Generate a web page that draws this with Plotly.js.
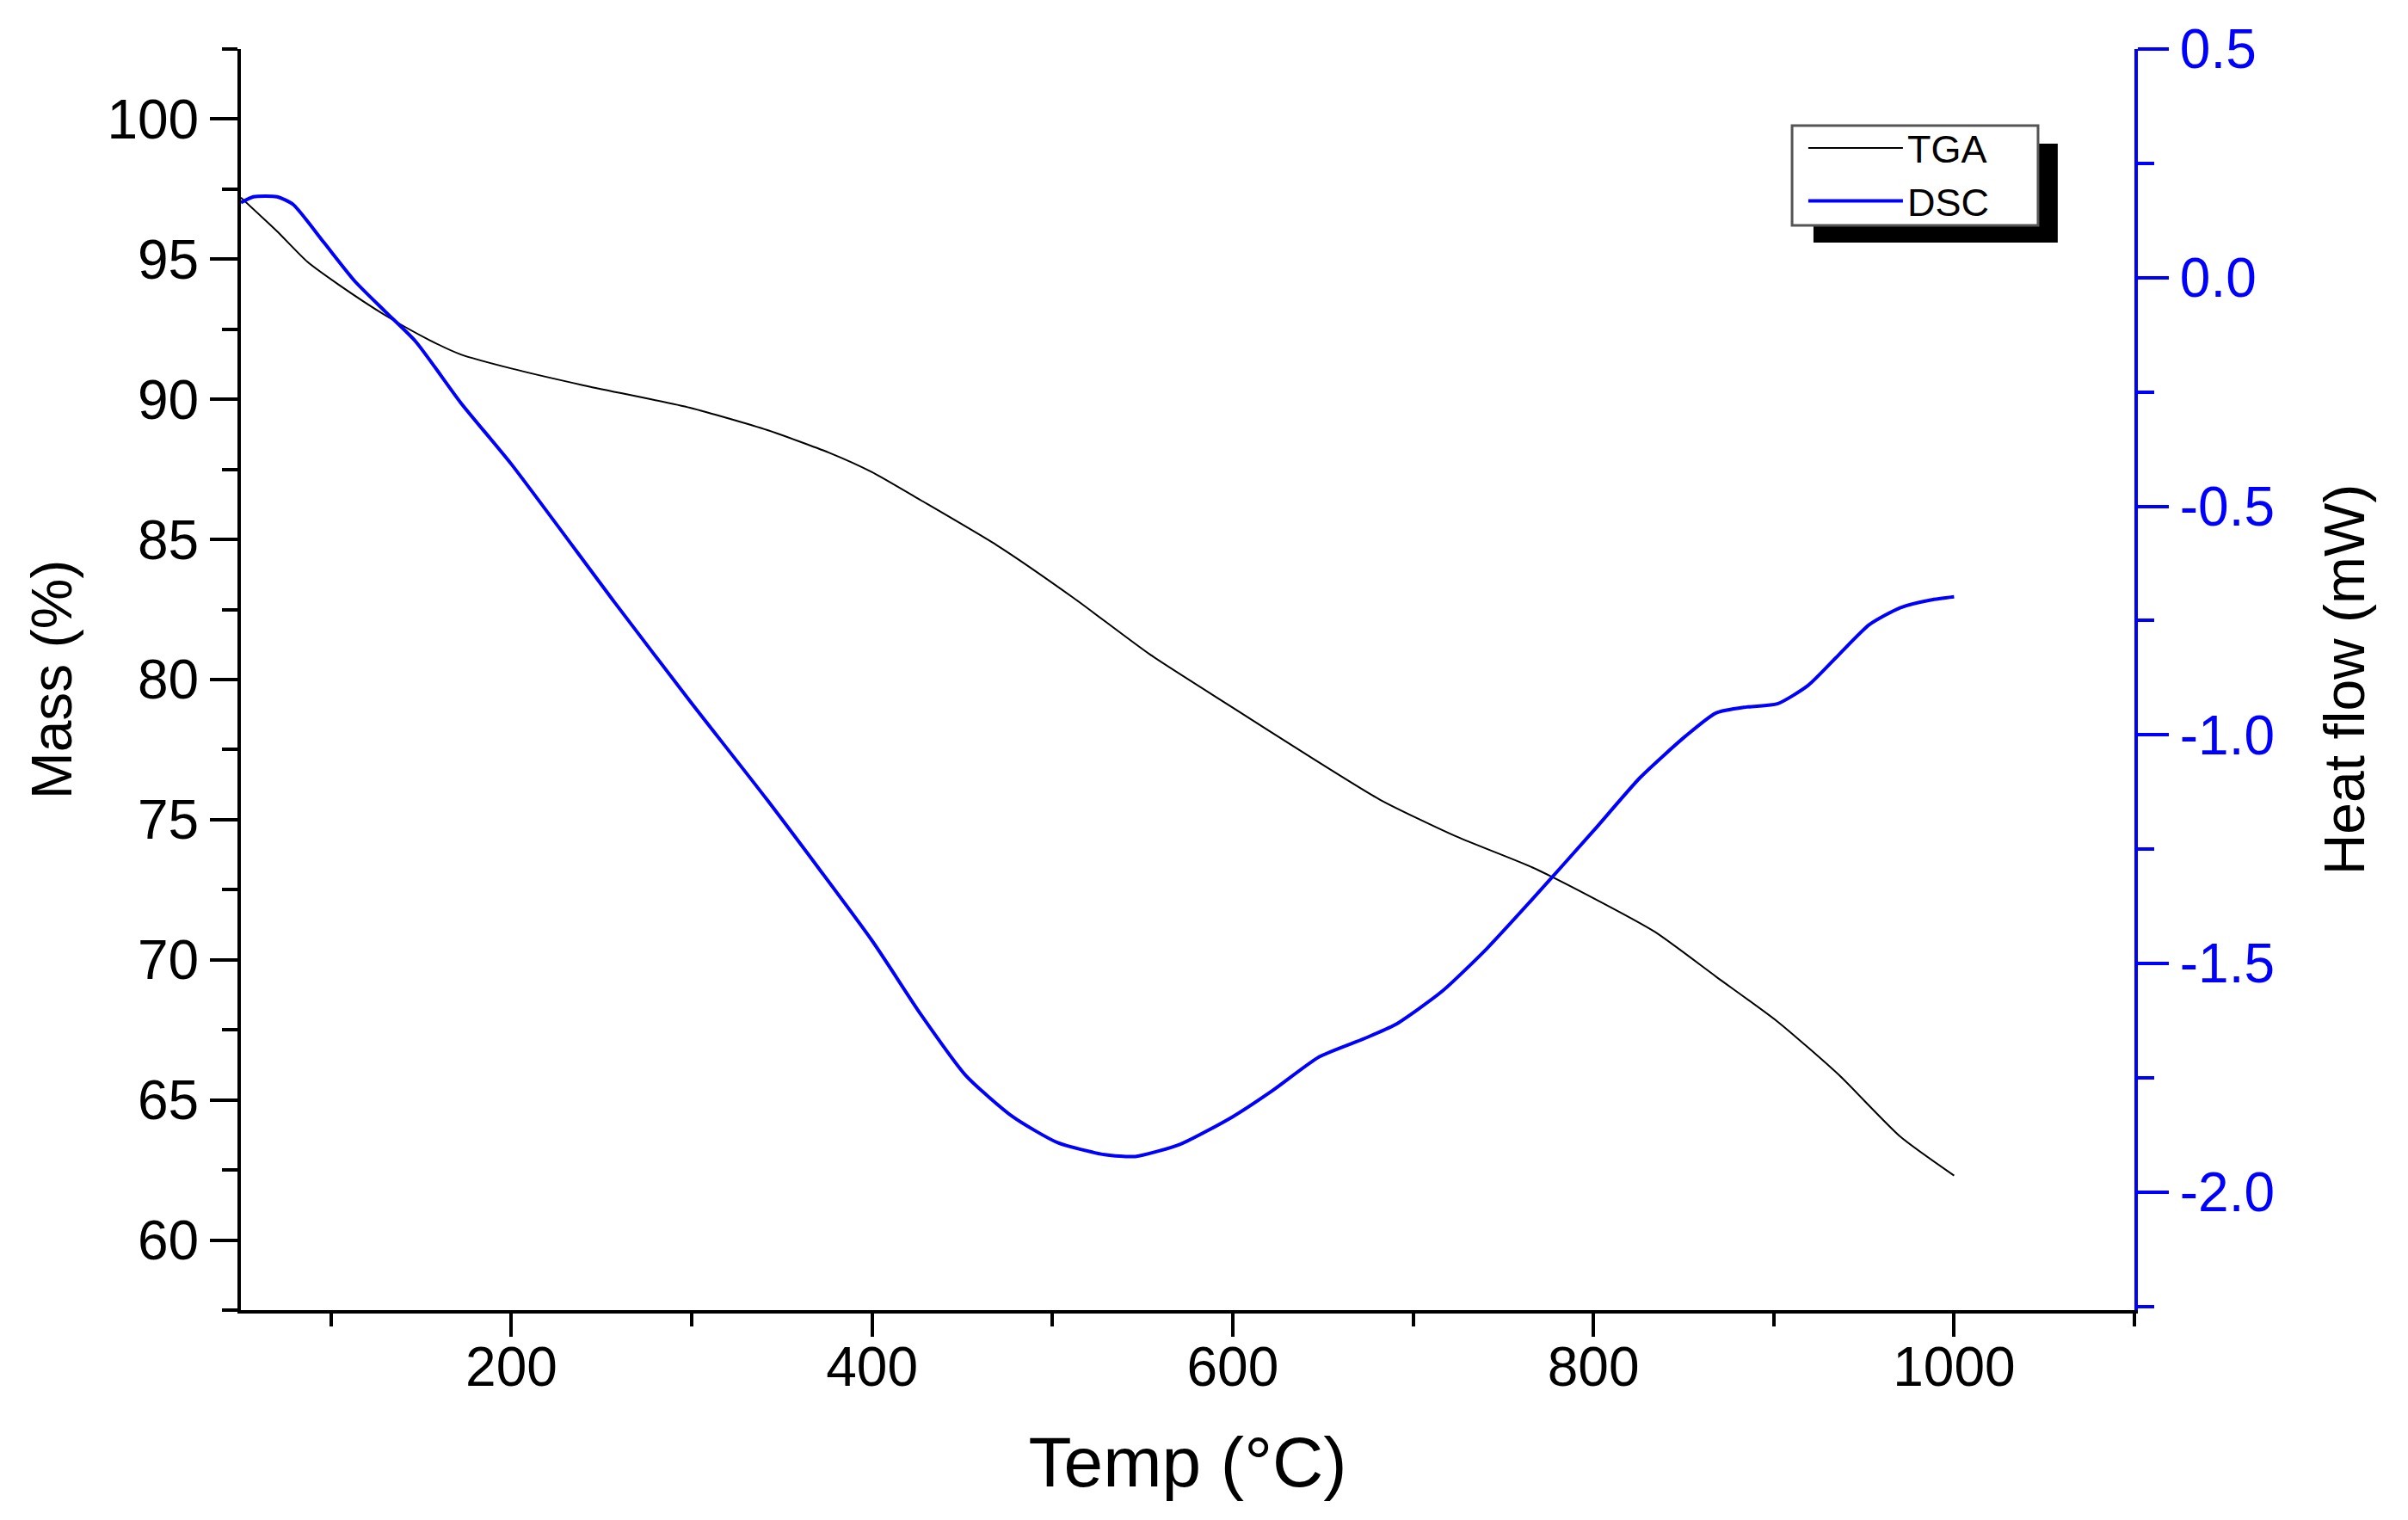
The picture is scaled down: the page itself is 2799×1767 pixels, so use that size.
<!DOCTYPE html>
<html>
<head>
<meta charset="utf-8">
<script src="https://cdn.plot.ly/plotly-3.0.1.min.js"></script>
<style>
  html, body { margin: 0; padding: 0; background: #fff; }
  #chart { width: 2799px; height: 1767px; }
</style>
</head>
<body>
<div id="chart"></div>
<script>
// TGA: mass (%) vs temperature
const tga_temp = [50, 70, 87, 104, 130, 155, 172, 200, 240, 299, 342, 376, 400, 427, 469, 512, 554, 600, 639, 682, 724, 766, 800, 834, 868, 902, 936, 970, 1000];
const tga_mass = [97.2, 96.0, 94.9, 94.1, 93.0, 92.1, 91.6, 91.1, 90.5, 89.7, 88.9, 88.1, 87.4, 86.4, 84.8, 82.9, 80.9, 79.0, 77.4, 75.7, 74.4, 73.3, 72.2, 71.0, 69.4, 67.8, 65.9, 63.7, 62.3];

// DSC: heat flow (mW) vs temperature
const dsc_temp = [50, 57, 70, 79, 96, 113, 130, 147, 172, 200, 257, 299, 342, 400, 427, 452, 478, 503, 529, 546, 571, 600, 622, 648, 673, 690, 716, 741, 766, 800, 826, 851, 868, 885, 902, 919, 936, 953, 970, 987, 1000];
const dsc_heat = [0.164, 0.177, 0.177, 0.160, 0.077, -0.007, -0.074, -0.140, -0.274, -0.408, -0.709, -0.926, -1.143, -1.450, -1.611, -1.745, -1.835, -1.892, -1.918, -1.922, -1.895, -1.835, -1.778, -1.704, -1.664, -1.634, -1.561, -1.467, -1.360, -1.210, -1.093, -1.003, -0.952, -0.939, -0.932, -0.892, -0.825, -0.759, -0.722, -0.705, -0.698];

const heat_tickvals = [-2.0, -1.5, -1.0, -0.5, 0.0, 0.5];
const heat_ticktext = ['-2.0', '-1.5', '-1.0', '-0.5', '0.0', '0.5'];
const heat_minorvals = [-2.25, -1.75, -1.25, -0.75, -0.25, 0.25];

const FONT = 'Liberation Sans, Arial, sans-serif';
const BLUE = '#0000ff';

const traces = [
    {
        x: tga_temp, y: tga_mass, name: 'TGA',
        type: 'scatter', mode: 'lines',
        line: {color: '#000000', width: 2, shape: 'spline', smoothing: 0.6},
        xaxis: 'x', yaxis: 'y',
    },
    {
        x: dsc_temp, y: dsc_heat, name: 'DSC',
        type: 'scatter', mode: 'lines',
        line: {color: BLUE, width: 4, shape: 'spline', smoothing: 0.6},
        xaxis: 'x', yaxis: 'y2',
    },
];

const layout = {
    width: 2799,
    height: 1767,
    margin: {l: 280, r: 318, t: 57, b: 244},
    paper_bgcolor: '#ffffff',
    plot_bgcolor: '#ffffff',
    font: {family: FONT, color: '#000000', size: 64},
    showlegend: true,
    legend: {
        x: 0.8255, y: 0.946, xanchor: 'left', yanchor: 'top',
        bgcolor: 'rgba(0,0,0,0)', borderwidth: 0,
        font: {family: FONT, size: 45, color: '#000000'},
        itemwidth: 110,
        tracegroupgap: 0,
    },
    xaxis: {
        range: [50, 1100],
        tick0: 0, dtick: 200,
        ticks: 'outside', ticklen: 27, tickwidth: 4, tickcolor: '#000',
        minor: {dtick: 100, ticks: 'outside', ticklen: 15, tickwidth: 4, tickcolor: '#000'},
        showline: true, linecolor: '#000', linewidth: 4,
        showgrid: false, zeroline: false,
        tickfont: {size: 64},
        ticklabelstandoff: -20,
        title: {text: 'Temp (°C)', font: {size: 82}, standoff: 48},
    },
    xaxis2: {
        range: [50, 1100],
        overlaying: 'x', side: 'top', anchor: 'y',
        tick0: 0, dtick: 200,
        ticks: 'inside', ticklen: 24, tickwidth: 4, tickcolor: '#000',
        minor: {dtick: 100, ticks: 'inside', ticklen: 13, tickwidth: 4, tickcolor: '#000'},
        showline: true, linecolor: '#000', linewidth: 4,
        showticklabels: false, showgrid: false, zeroline: false,
    },
    yaxis: {
        range: [57.5, 102.5],
        tick0: 0, dtick: 5,
        ticks: 'outside', ticklen: 32, tickwidth: 4, tickcolor: '#000',
        minor: {dtick: 2.5, ticks: 'outside', ticklen: 18, tickwidth: 4, tickcolor: '#000'},
        showline: true, linecolor: '#000', linewidth: 4,
        showgrid: false, zeroline: false,
        tickfont: {size: 64},
        title: {text: 'Mass (%)', font: {size: 66}, standoff: 20},
    },
    yaxis2: {
        range: [-2.258, 0.5],
        overlaying: 'y', side: 'right', anchor: 'x',
        tickvals: heat_tickvals, ticktext: heat_ticktext,
        ticks: 'outside', ticklen: 36, tickwidth: 4, tickcolor: BLUE,
        minor: {tickvals: heat_minorvals, ticks: 'outside', ticklen: 19, tickwidth: 4, tickcolor: BLUE},
        showline: true, linecolor: BLUE, linewidth: 4,
        showgrid: false, zeroline: false,
        tickfont: {size: 64, color: BLUE},
        title: {text: 'Heat flow (mW)', font: {size: 66, color: '#000'}, standoff: 60},
    },
    shapes: [
        // legend drop shadow, then the legend frame on top of it
        {type: 'rect', xref: 'paper', yref: 'paper',
         x0: 0.8305, x1: 0.9595, y0: 0.8465, y1: 0.925,
         fillcolor: '#000000', line: {width: 0}, layer: 'above'},
        {type: 'rect', xref: 'paper', yref: 'paper',
         x0: 0.8192, x1: 0.9491, y0: 0.8602, y1: 0.9393,
         fillcolor: '#ffffff', line: {color: '#555555', width: 3}, layer: 'above'},
    ],
};

Plotly.newPlot('chart', traces, layout, {staticPlot: true, displayModeBar: false});
</script>
</body>
</html>
